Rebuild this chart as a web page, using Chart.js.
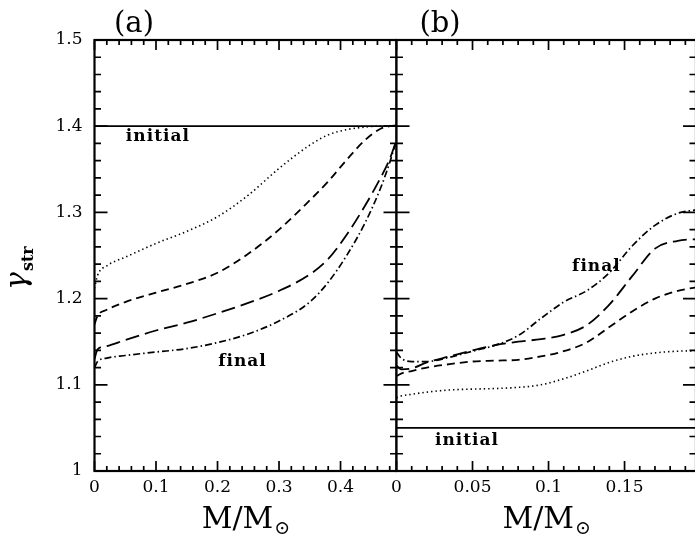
<!DOCTYPE html>
<html>
<head>
<meta charset="utf-8">
<script src="https://cdn.jsdelivr.net/npm/chart.js@4.4.0/dist/chart.umd.min.js"></script>
<style>
  html, body { margin: 0; padding: 0; background: #fff; }
  #wrap { position: relative; width: 695px; height: 541px; overflow: hidden; background: #fff; }
  #wrap canvas { position: absolute; top: 0; }
  #chartA { left: 0; }
  #chartB { left: 380px; }
</style>
</head>
<body>
<div id="wrap">
  <canvas id="chartA" width="397" height="541"></canvas>
  <canvas id="chartB" width="316" height="541"></canvas>
</div>
<script>
// --- Panel (a) data ---
const xA = [0, 0.005, 0.02, 0.05, 0.1, 0.15, 0.2, 0.25, 0.3, 0.35, 0.38, 0.41, 0.44, 0.465, 0.48, 0.491];
const dottedA = [1.212, 1.227, 1.238, 1.248, 1.264, 1.278, 1.295, 1.320, 1.351, 1.378, 1.390, 1.396, 1.399, 1.400, 1.400, 1.401];
const dashedA = [1.170, 1.180, 1.187, 1.196, 1.207, 1.217, 1.230, 1.252, 1.280, 1.314, 1.336, 1.361, 1.384, 1.397, 1.400, 1.401];
const longDashA = [1.130, 1.141, 1.145, 1.152, 1.163, 1.172, 1.183, 1.195, 1.209, 1.228, 1.246, 1.274, 1.308, 1.340, 1.362, 1.384];
const dashDotA = [1.120, 1.127, 1.131, 1.134, 1.138, 1.142, 1.149, 1.159, 1.174, 1.196, 1.219, 1.250, 1.288, 1.328, 1.358, 1.384];
const initialXA = [0, 0.491];
const initialA = [1.4, 1.4];

// --- Panel (b) data ---
const xB = [0, 0.003, 0.01, 0.02, 0.035, 0.05, 0.065, 0.08, 0.095, 0.11, 0.125, 0.14, 0.155, 0.17, 0.185, 0.197];
const dottedB = [1.085, 1.087, 1.089, 1.0915, 1.094, 1.095, 1.0957, 1.097, 1.100, 1.107, 1.116, 1.126, 1.133, 1.137, 1.139, 1.1395];
const dashedB = [1.110, 1.113, 1.116, 1.120, 1.124, 1.127, 1.128, 1.129, 1.133, 1.139, 1.149, 1.167, 1.185, 1.200, 1.209, 1.213];
const longDashB = [1.122, 1.118, 1.119, 1.126, 1.133, 1.140, 1.146, 1.150, 1.153, 1.158, 1.169, 1.193, 1.226, 1.258, 1.267, 1.269];
const dashDotB = [1.138, 1.131, 1.127, 1.127, 1.132, 1.139, 1.146, 1.157, 1.177, 1.196, 1.209, 1.230, 1.261, 1.285, 1.299, 1.303];
const initialXB = [0, 0.197];
const initialB = [1.05, 1.05];

// --- Axes ---
const yTicks = [1, 1.1, 1.2, 1.3, 1.4, 1.5];
const yLabels = ['1', '1.1', '1.2', '1.3', '1.4', '1.5'];
const xTicksA = [0, 0.1, 0.2, 0.3, 0.4];
const xLabelsA = ['0', '0.1', '0.2', '0.3', '0.4'];
const xTicksB = [0, 0.05, 0.1, 0.15];
const xLabelsB = ['0', '0.05', '0.1', '0.15'];

const SERIF = "'DejaVu Serif', serif";
Chart.defaults.font.family = SERIF;
Chart.defaults.color = '#000';

function series(xs, ys, dash, width) {
    return {
        data: xs.map((x, i) => ({ x: x, y: ys[i] })),
        borderColor: '#000',
        borderWidth: width,
        borderDash: dash,
        pointRadius: 0,
        fill: false,
        cubicInterpolationMode: 'monotone'
    };
}

// frame, inward ticks on every side, and free text
const framePlugin = {
    id: 'frame',
    afterDraw(chart, args, opts) {
        const { ctx, chartArea: a, scales } = chart;
        const x = scales.x, y = scales.y;
        ctx.save();
        ctx.strokeStyle = '#000';
        ctx.lineWidth = 2.2;
        ctx.strokeRect(a.left, a.top, a.right - a.left, a.bottom - a.top);

        ctx.lineWidth = 1.7;
        ctx.beginPath();
        const xMinor = [];
        for (let v = 0; v <= x.max + 1e-9; v += opts.xMinorStep) xMinor.push(v);
        xMinor.forEach(v => {
            const major = opts.xMajor.some(m => Math.abs(m - v) < 1e-6);
            const len = major ? 10 : 5;
            const px = x.getPixelForValue(v);
            ctx.moveTo(px, a.bottom); ctx.lineTo(px, a.bottom - len);
            ctx.moveTo(px, a.top); ctx.lineTo(px, a.top + len);
        });
        const yMinor = [];
        for (let v = 1; v <= 1.5 + 1e-9; v += 0.02) yMinor.push(v);
        yMinor.forEach(v => {
            const major = yTicks.some(m => Math.abs(m - v) < 1e-6);
            const len = major ? 13 : 6.5;
            const py = y.getPixelForValue(v);
            ctx.moveTo(a.left, py); ctx.lineTo(a.left + len, py);
            ctx.moveTo(a.right, py); ctx.lineTo(a.right - len, py);
        });
        ctx.stroke();

        ctx.fillStyle = '#000';
        ctx.textBaseline = 'middle';
        ctx.textAlign = 'left';
        (opts.notes || []).forEach(n => {
            ctx.font = n.font;
            ctx.letterSpacing = n.spacing || '0px';
            ctx.fillText(n.text, x.getPixelForValue(n.x), y.getPixelForValue(n.y));
        });
        ctx.letterSpacing = '0px';

        // panel letter
        ctx.font = '29px ' + SERIF;
        ctx.textAlign = 'center';
        ctx.fillText(opts.letter, opts.letterX, 24);

        // x axis title M/M(sun)
        const cx = (a.left + a.right) / 2;
        ctx.font = '30px ' + SERIF;
        ctx.textBaseline = 'alphabetic';
        ctx.textAlign = 'left';
        const wMain = ctx.measureText('M/M').width;
        ctx.font = '19px ' + SERIF;
        const wSun = ctx.measureText('\u2299').width;
        const x0 = cx - (wMain + wSun) / 2;
        ctx.font = '30px ' + SERIF;
        ctx.fillText('M/M', x0, 528);
        ctx.font = '19px ' + SERIF;
        ctx.fillText('\u2299', x0 + wMain + 1, 534);

        // y axis title
        if (opts.yTitle) {
            ctx.translate(26, 290);
            ctx.rotate(-Math.PI / 2);
            ctx.font = 'italic 30px ' + SERIF;
            ctx.fillText('\u03b3', 0, 0);
            const g = ctx.measureText('\u03b3').width;
            ctx.font = 'bold 16px ' + SERIF;
            ctx.fillText('str', g + 1, 7);
        }
        ctx.restore();
    }
};

function makeChart(id, cfg) {
    return new Chart(document.getElementById(id), {
        type: 'line',
        data: { datasets: cfg.datasets },
        options: {
            responsive: false,
            animation: false,
            devicePixelRatio: 1,
            layout: { padding: { top: 40, right: cfg.padRight, left: 0, bottom: 0 } },
            plugins: {
                legend: { display: false },
                tooltip: { enabled: false },
                frame: cfg.frame
            },
            scales: {
                x: {
                    type: 'linear',
                    min: 0,
                    max: cfg.xMax,
                    grid: { display: false, drawTicks: false },
                    border: { display: false },
                    afterBuildTicks: s => { s.ticks = cfg.xTicks.map(v => ({ value: v })); },
                    afterFit: s => { s.height = 70; },
                    ticks: {
                        padding: 6,
                        maxRotation: 0,
                        font: { size: 17 },
                        callback: (v, i) => cfg.xLabels[i]
                    }
                },
                y: {
                    type: 'linear',
                    min: 1,
                    max: 1.5,
                    grid: { display: false, drawTicks: false },
                    border: { display: false },
                    afterBuildTicks: s => { s.ticks = yTicks.map(v => ({ value: v })); },
                    afterFit: s => { s.width = cfg.yWidth; },
                    ticks: {
                        display: cfg.yLabels,
                        padding: 12,
                        font: { size: 17 },
                        callback: (v, i) => yLabels[i]
                    }
                }
            }
        },
        plugins: [framePlugin]
    });
}

makeChart('chartA', {
    xMax: 0.491,
    xTicks: xTicksA,
    xLabels: xLabelsA,
    yWidth: 94.5,
    yLabels: true,
    padRight: 0.5,
    datasets: [
        series(initialXA, initialA, [], 1.7),
        series(xA, dottedA, [1.4, 3], 1.6),
        series(xA, dashedA, [8, 5], 1.8),
        series(xA, longDashA, [14, 6], 1.8),
        series(xA, dashDotA, [7, 3, 1.5, 3], 1.7)
    ],
    frame: {
        xMajor: xTicksA,
        xMinorStep: 0.02,
        letter: '(a)',
        letterX: 134,
        yTitle: true,
        notes: [
            { text: 'initial', x: 0.051, y: 1.3876, font: 'bold 17px ' + SERIF, spacing: '1px' },
            { text: 'final', x: 0.201, y: 1.1274, font: 'bold 17px ' + SERIF, spacing: '1px' }
        ]
    }
});

makeChart('chartB', {
    xMax: 0.197,
    xTicks: xTicksB,
    xLabels: xLabelsB,
    yWidth: 16.5,
    yLabels: false,
    padRight: 0,
    datasets: [
        series(initialXB, initialB, [], 1.7),
        series(xB, dottedB, [1.4, 3], 1.6),
        series(xB, dashedB, [8, 5], 1.8),
        series(xB, longDashB, [14, 6], 1.8),
        series(xB, dashDotB, [7, 3, 1.5, 3], 1.7)
    ],
    frame: {
        xMajor: xTicksB,
        xMinorStep: 0.01,
        letter: '(b)',
        letterX: 60,
        yTitle: false,
        notes: [
            { text: 'initial', x: 0.0253, y: 1.0357, font: 'bold 17px ' + SERIF, spacing: '1px' },
            { text: 'final', x: 0.1155, y: 1.2366, font: 'bold 17px ' + SERIF, spacing: '1px' }
        ]
    }
});
</script>
</body>
</html>
